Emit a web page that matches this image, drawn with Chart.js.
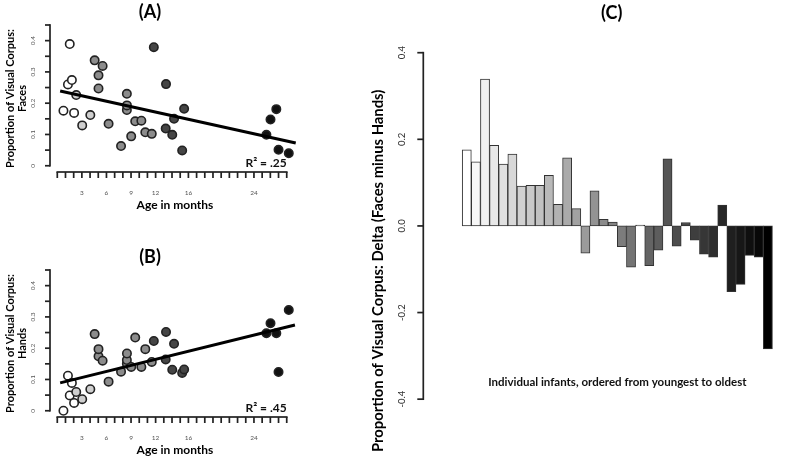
<!DOCTYPE html>
<html>
<head>
<meta charset="utf-8">
<title>Visual corpus: faces and hands by infant age</title>
<script src="https://cdn.jsdelivr.net/npm/chart.js@4.4.1/dist/chart.umd.min.js"></script>
<style>
  html, body { margin: 0; padding: 0; background: #fff; overflow: hidden; }
  #wrap { position: relative; width: 800px; height: 456px; }
  canvas { position: absolute; }
  #chartA { left: 0; top: 0; }
  #chartB { left: 0; top: 245px; }
  #chartC { left: 360px; top: 0; }
</style>
</head>
<body>
<div id="wrap">
  <canvas id="chartA" width="320" height="215"></canvas>
  <canvas id="chartB" width="320" height="215"></canvas>
  <canvas id="chartC" width="440" height="456"></canvas>
</div>
<script>
// infants, ordered from youngest to oldest
const infantRank = [1, 2, 3, 4, 5, 6, 7, 8, 9, 10, 11, 12, 13, 14, 15, 16, 17,
  18, 19, 20, 21, 22, 23, 24, 25, 26, 27, 28, 29, 30, 31, 32, 33, 34];
const ageMonths = [0.75, 1.30, 1.52, 1.78, 2.05, 2.31, 3.04, 4.03, 4.56, 5.03, 5.03, 5.53,
  6.26, 7.78, 8.49, 8.49, 8.50, 9.02, 9.51, 10.26, 10.74, 11.53, 11.78, 13.23, 13.27,
  14.03, 14.25, 15.24, 15.48, 25.52, 26.02, 26.73, 27.0, 28.25];
const facesProp = [0.176, 0.260, 0.389, 0.274, 0.169, 0.226, 0.129, 0.162, 0.337, 0.289,
  0.247, 0.319, 0.134, 0.063, 0.230, 0.178, 0.193, 0.094, 0.142, 0.144, 0.107, 0.102,
  0.379, 0.119, 0.261, 0.099, 0.150, 0.049, 0.182, 0.099, 0.148, 0.181, 0.051, 0.040];
const handsProp = [0.000, 0.112, 0.049, 0.089, 0.025, 0.060, 0.037, 0.069, 0.245, 0.174,
  0.197, 0.160, 0.093, 0.125, 0.150, 0.162, 0.183, 0.140, 0.234, 0.140, 0.197, 0.156,
  0.223, 0.164, 0.252, 0.131, 0.214, 0.121, 0.132, 0.248, 0.280, 0.248, 0.124, 0.322];
const facesMinusHands = [0.176, 0.148, 0.339, 0.186, 0.143, 0.166, 0.092, 0.094, 0.094,
  0.117, 0.050, 0.157, 0.040, -0.063, 0.081, 0.015, 0.009, -0.048, -0.095, 0.002, -0.092,
  -0.056, 0.155, -0.047, 0.008, -0.033, -0.065, -0.072, 0.048, -0.152, -0.135, -0.068,
  -0.072, -0.284];

// fitted regression lines (end points as drawn)
const facesFitX = [0.35, 29.1];
const facesFitY = [0.239, 0.073];
const handsFitX = [0.35, 29.0];
const handsFitY = [0.089, 0.274];

// axes
const ageTickValues = Array.from({length: 29}, (_, i) => i);
const ageTickLabels = [3, 6, 9, 12, 16, 24];
const propTickValues = [0, 0.05, 0.1, 0.15, 0.2, 0.25, 0.3, 0.35, 0.4, 0.45];
const propLabelValues = [0, 0.1, 0.2, 0.3, 0.4];
const propTickLabels = ['0', '0.1', '0.2', '0.3', '0.4'];
const deltaTickValues = [-0.4, -0.2, 0, 0.2, 0.4];
const deltaTickLabels = ['-0.4', '-0.2', '0.0', '0.2', '0.4'];

const FONT = 'Lato, "Open Sans", sans-serif';

// point fill by age band, bars shade from white (youngest) to black (oldest)
function pointFill(age) {
  if (age < 2.2) return '#ffffff';
  if (age < 4.3) return '#cfcfcf';
  if (age < 11.7) return '#8c8c8c';
  if (age < 16) return '#454545';
  return '#111111';
}
function barFill(i, n) {
  const g = Math.round(255 * (1 - i / (n - 1)));
  return `rgb(${g},${g},${g})`;
}

// R-like axes: line only from first to last tick, outward tick marks, small notes
const rStyleAxes = {
  id: 'rStyleAxes',
  afterDraw(chart, args, o) {
    const {ctx, chartArea, scales: {x, y}} = chart;
    const w = 1.7;
    ctx.save();
    ctx.fillStyle = '#222';
    if (o.yFrom !== undefined) {
      const left = chartArea.left;
      const top = y.getPixelForValue(o.yTo), bot = y.getPixelForValue(o.yFrom);
      ctx.fillRect(left - w / 2, top - w / 2, w, bot - top + w);
      y.ticks.forEach(t => {
        const py = y.getPixelForValue(t.value);
        ctx.fillRect(left - o.yTickLen, py - w / 2, o.yTickLen, w);
      });
    }
    if (o.xFrom !== undefined) {
      const base = chartArea.bottom;
      const l = x.getPixelForValue(o.xFrom), r = x.getPixelForValue(o.xTo);
      ctx.fillRect(l - w / 2, base - w / 2, r - l + w, w);
      x.ticks.forEach(t => {
        const px = x.getPixelForValue(t.value);
        ctx.fillRect(px - w / 2, base, w, o.xTickLen);
      });
    }
    if (o.note) {
      ctx.fillStyle = '#111';
      ctx.font = o.note.font;
      ctx.textAlign = o.note.align;
      ctx.textBaseline = o.note.baseline;
      ctx.fillText(o.note.text, x.getPixelForValue(o.note.x), y.getPixelForValue(o.note.y));
    }
    ctx.restore();
  }
};

function scatterPanel(id, letter, yName, values, fitX, fitY, r2) {
  const pts = ageMonths.map((a, i) => ({x: a, y: values[i]}));
  return new Chart(document.getElementById(id), {
    type: 'scatter',
    data: {
      datasets: [
        {
          data: pts,
          pointRadius: 4.2,
          pointBorderWidth: 1.6,
          pointBorderColor: '#222',
          pointBackgroundColor: ageMonths.map(pointFill),
          clip: false,
          order: 2
        },
        {
          type: 'line',
          data: fitX.map((v, i) => ({x: v, y: fitY[i]})),
          borderColor: '#000',
          borderWidth: 3,
          pointRadius: 0,
          clip: false,
          order: 1
        }
      ]
    },
    options: {
      responsive: false,
      animation: false,
      events: [],
      layout: {padding: {left: 0, right: 20, top: 0, bottom: 0}},
      plugins: {
        legend: {display: false},
        tooltip: {enabled: false},
        title: {
          display: true, text: letter, color: '#000',
          font: {family: FONT, size: 18, weight: 'bold', lineHeight: 1},
          padding: {top: 3, bottom: 4}
        },
        rStyleAxes: {
          yFrom: 0, yTo: 0.45, xFrom: 0, xTo: 28, yTickLen: 5, xTickLen: 6,
          note: {text: r2, x: 28, y: -0.004, align: 'right', baseline: 'alphabetic',
                 font: `bold 12px ${FONT}`}
        }
      },
      scales: {
        x: {
          type: 'linear', min: -0.89, max: 29.62,
          border: {display: false},
          grid: {display: false, drawTicks: true, tickLength: 6},
          afterBuildTicks: s => { s.ticks = ageTickValues.map(v => ({value: v})); },
          afterFit: s => { s.height = 43; s.paddingLeft = 0; s.paddingRight = 0; },
          ticks: {
            autoSkip: false, maxRotation: 0, padding: 11, color: '#555',
            font: {family: FONT, size: 6.5},
            callback: v => ageTickLabels.includes(v) ? String(v) : ''
          },
          title: {
            display: true, text: 'Age in months', color: '#000',
            font: {family: FONT, size: 12, weight: 'bold'},
            padding: {top: 0, bottom: 3}
          }
        },
        y: {
          type: 'linear', min: -0.02, max: 0.45,
          border: {display: false},
          grid: {display: false, drawTicks: true, tickLength: 5},
          afterBuildTicks: s => { s.ticks = propTickValues.map(v => ({value: v})); },
          afterFit: s => { s.width = 50; s.paddingTop = 0; s.paddingBottom = 0; },
          ticks: {
            autoSkip: false, minRotation: 90, maxRotation: 90, crossAlign: 'center',
            padding: 8, color: '#555',
            font: {family: FONT, size: 6.5},
            callback: v => {
              const k = propLabelValues.findIndex(p => Math.abs(p - v) < 1e-6);
              return k >= 0 ? propTickLabels[k] : '';
            }
          },
          title: {
            display: true, text: ['Proportion of Visual Corpus:', yName], color: '#000',
            font: {family: FONT, size: 11, weight: 'bold', lineHeight: 1.1},
            padding: {top: 4, bottom: 0}
          }
        }
      }
    },
    plugins: [rStyleAxes]
  });
}

scatterPanel('chartA', '(A)', 'Faces', facesProp, facesFitX, facesFitY, 'R\u00b2 = .25');
scatterPanel('chartB', '(B)', 'Hands', handsProp, handsFitX, handsFitY, 'R\u00b2 = .45');

new Chart(document.getElementById('chartC'), {
  type: 'bar',
  data: {
    datasets: [{
      data: infantRank.map((r, i) => ({x: r, y: facesMinusHands[i]})),
      backgroundColor: infantRank.map((r, i) => barFill(i, infantRank.length)),
      borderColor: '#333',
      borderWidth: 1,
      borderSkipped: false,
      barPercentage: 1,
      categoryPercentage: 1
    }]
  },
  options: {
    responsive: false,
    animation: false,
    events: [],
    layout: {padding: {left: 0, right: 0, top: 0, bottom: 4}},
    plugins: {
      legend: {display: false},
      tooltip: {enabled: false},
      title: {
        display: true, text: '(C)', color: '#000', fullSize: false,
        font: {family: FONT, size: 18, weight: 'bold', lineHeight: 1},
        padding: {top: 4, bottom: 30.7}
      },
      rStyleAxes: {
        yFrom: -0.4, yTo: 0.4, yTickLen: 6,
        note: {text: 'Individual infants, ordered from youngest to oldest', x: 17.5, y: -0.362,
               align: 'center', baseline: 'middle', font: `bold 11.5px ${FONT}`}
      }
    },
    scales: {
      x: {type: 'linear', display: false, min: -0.815, max: 34.57},
      y: {
        type: 'linear', min: -0.522, max: 0.4,
        border: {display: false},
        grid: {display: false, drawTicks: true, tickLength: 6},
        afterBuildTicks: s => { s.ticks = deltaTickValues.map(v => ({value: v})); },
        afterFit: s => { s.width = 63.3; s.paddingTop = 0; s.paddingBottom = 0; },
        ticks: {
          autoSkip: false, minRotation: 90, maxRotation: 90, crossAlign: 'center',
          padding: 7, color: '#333',
          font: {family: FONT, size: 9.5},
          callback: v => {
            const k = deltaTickValues.findIndex(p => Math.abs(p - v) < 1e-6);
            return k >= 0 ? deltaTickLabels[k] : '';
          }
        },
        title: {
          display: true, align: 'start',
          text: 'Proportion of Visual Corpus: Delta (Faces minus Hands)', color: '#000',
          font: {family: FONT, size: 14.8, weight: 'bold'},
          padding: {top: 9, bottom: 0}
        }
      }
    }
  },
  plugins: [rStyleAxes]
});
</script>
</body>
</html>
